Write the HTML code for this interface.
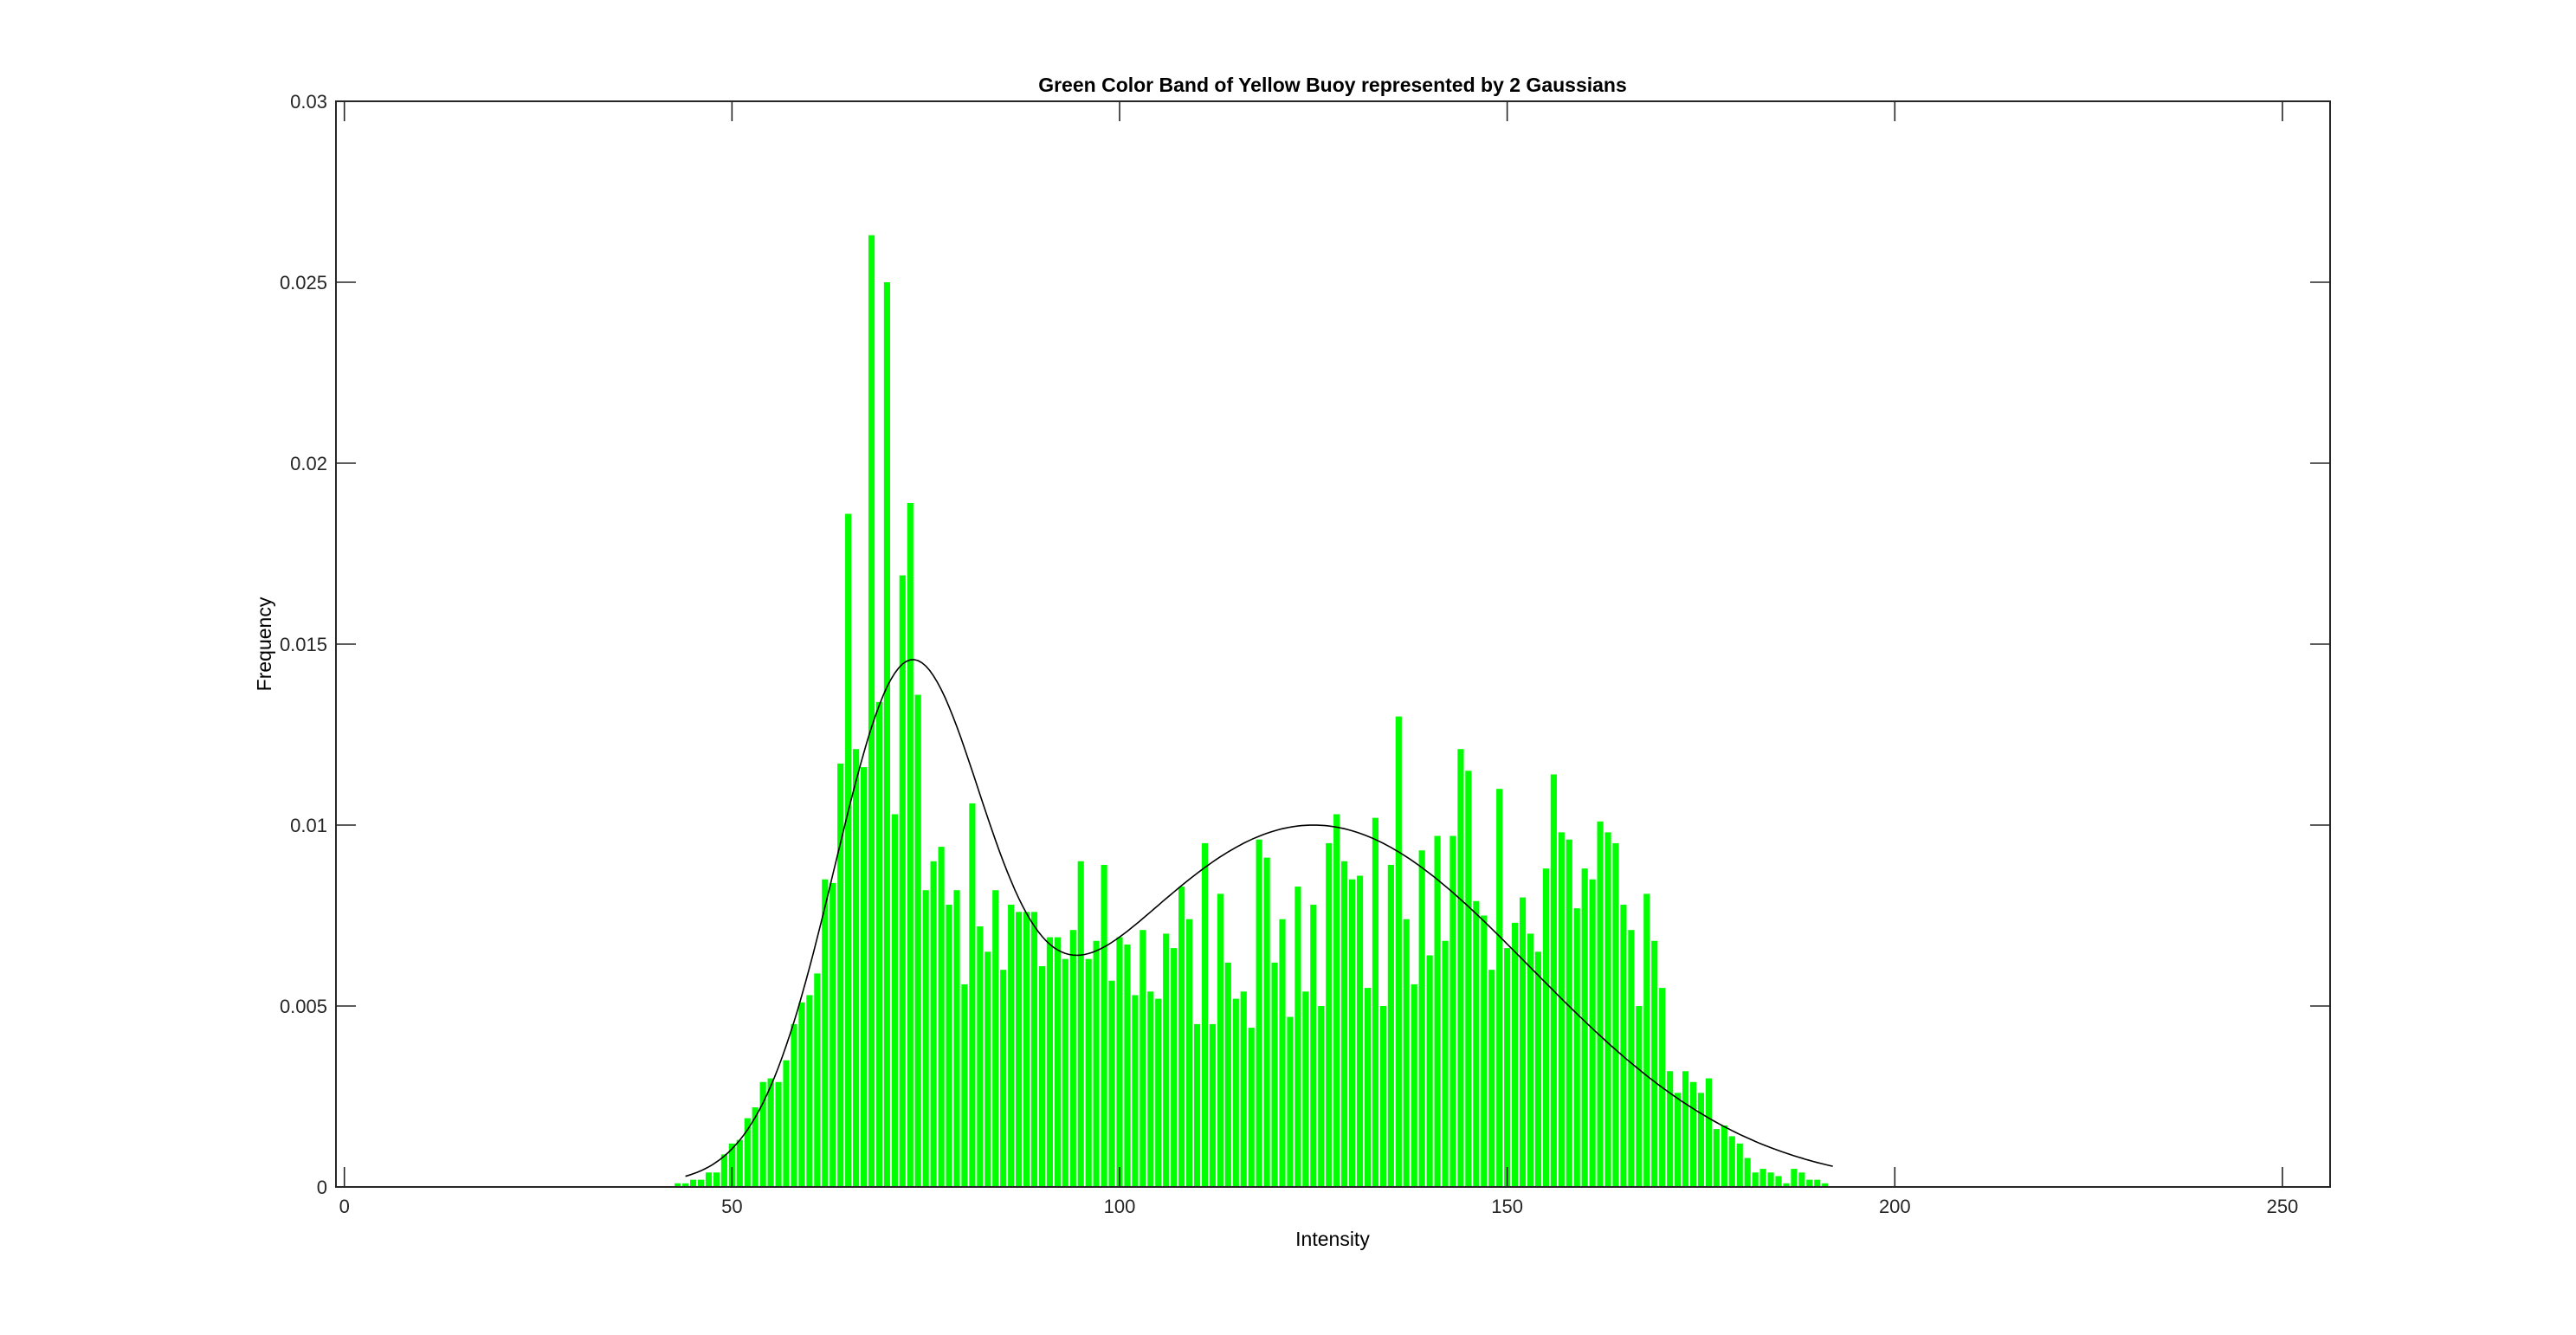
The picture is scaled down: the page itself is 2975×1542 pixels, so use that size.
<!DOCTYPE html>
<html><head><meta charset="utf-8"><style>
html,body{margin:0;padding:0;background:#fff;}
svg{display:block;font-family:"Liberation Sans",sans-serif;}
</style></head><body>
<svg id="chart" width="2975" height="1542" viewBox="0 0 2975 1542">
<rect x="0" y="0" width="2975" height="1542" fill="#fff"/>
<text x="1539" y="106" font-size="23" font-weight="bold" text-anchor="middle" fill="#000">Green Color Band of Yellow Buoy represented by 2 Gaussians</text>
<text x="0" y="0" transform="translate(313,744) rotate(-90)" font-size="23" text-anchor="middle" fill="#000">Frequency</text>
<text x="1539" y="1439" font-size="23" text-anchor="middle" fill="#000">Intensity</text>
<g id="bars"></g>
<g id="curve"></g>
<g id="axes"></g>
</svg>
<script>
const binStart = 43;
const freqs = [0.0001,0.0001,0.0002,0.0002,0.0004,0.0004,0.0009,0.0012,0.0013,0.0019,0.0022,0.0029,0.0030,0.0029,0.0035,0.0045,0.0051,0.0053,0.0059,0.0085,0.0084,0.0117,0.0186,0.0121,0.0116,0.0263,0.0134,0.0250,0.0103,0.0169,0.0189,0.0136,0.0082,0.0090,0.0094,0.0078,0.0082,0.0056,0.0106,0.0072,0.0065,0.0082,0.0060,0.0078,0.0076,0.0076,0.0076,0.0061,0.0069,0.0069,0.0063,0.0071,0.0090,0.0063,0.0068,0.0089,0.0057,0.0069,0.0067,0.0053,0.0071,0.0054,0.0052,0.0070,0.0066,0.0083,0.0074,0.0045,0.0095,0.0045,0.0081,0.0062,0.0052,0.0054,0.0044,0.0096,0.0091,0.0062,0.0074,0.0047,0.0083,0.0054,0.0078,0.0050,0.0095,0.0103,0.0090,0.0085,0.0086,0.0055,0.0102,0.0050,0.0089,0.0130,0.0074,0.0056,0.0093,0.0064,0.0097,0.0068,0.0097,0.0121,0.0115,0.0079,0.0075,0.0060,0.0110,0.0066,0.0073,0.0080,0.0070,0.0065,0.0088,0.0114,0.0098,0.0096,0.0077,0.0088,0.0085,0.0101,0.0098,0.0095,0.0078,0.0071,0.0050,0.0081,0.0068,0.0055,0.0032,0.0026,0.0032,0.0029,0.0026,0.0030,0.0016,0.0017,0.0014,0.0012,0.0008,0.0004,0.0005,0.0004,0.0003,0.0001,0.0005,0.0004,0.0002,0.0002,0.0001];
const gaussAmp = [0.0128, 0.0100];
const gaussMu = [72.5, 125];
const gaussSigma = [9.5, 28];
const curveRange = [44, 192];
const xTicks = [0, 50, 100, 150, 200, 250];
const yTicks = [0, 0.005, 0.01, 0.015, 0.02, 0.025, 0.03];
const yTickLabels = ["0","0.005","0.01","0.015","0.02","0.025","0.03"];

const L=388, R=2691, T=117, B=1371;
const x0px=397.7, xPerUnit=8.953;
const X = v => x0px + v*xPerUnit;
const Y = v => B - v/0.03*(B-T);
const NS='http://www.w3.org/2000/svg';
function mk(tag, attrs){const e=document.createElementNS(NS,tag);for(const k in attrs)e.setAttribute(k,attrs[k]);return e;}

const gb=document.getElementById('bars');
freqs.forEach((f,i)=>{
  const v=binStart+i, w=0.8*xPerUnit;
  const r=mk('rect',{x:X(v)-w/2,y:Y(f),width:w,height:B-Y(f),fill:'#00ff00'});
  
  
  gb.appendChild(r);
});

let d='';
for(let x=curveRange[0]; x<=curveRange[1]+1e-9; x+=0.5){
  let y=0;
  for(let k=0;k<gaussAmp.length;k++) y+=gaussAmp[k]*Math.exp(-Math.pow(x-gaussMu[k],2)/(2*gaussSigma[k]*gaussSigma[k]));
  d+=(d?'L':'M')+X(x).toFixed(1)+','+Y(y).toFixed(1);
}
const p=mk('path',{d:d,fill:'none',stroke:'#000','stroke-width':1.6});


document.getElementById('curve').appendChild(p);

const ga=document.getElementById('axes');
const box=mk('rect',{x:L,y:T,width:R-L,height:B-T,fill:'none',stroke:'#262626','stroke-width':2});


ga.appendChild(box);
xTicks.forEach(t=>{
  const x=X(t);
  const l1=mk('line',{x1:x,y1:B,x2:x,y2:B-23,stroke:'#262626','stroke-width':1.6});
  
  
  ga.appendChild(l1);
  const l2=mk('line',{x1:x,y1:T,x2:x,y2:T+23,stroke:'#262626','stroke-width':1.6});
  
  
  ga.appendChild(l2);
  const tx=mk('text',{x:x,y:B+30,'font-size':22,'text-anchor':'middle',fill:'#262626'});
  tx.textContent=String(t);
  
  
  ga.appendChild(tx);
});
yTicks.forEach((t,i)=>{
  const y=Y(t);
  const l1=mk('line',{x1:L,y1:y,x2:L+23,y2:y,stroke:'#262626','stroke-width':1.6});
  
  
  ga.appendChild(l1);
  const l2=mk('line',{x1:R,y1:y,x2:R-23,y2:y,stroke:'#262626','stroke-width':1.6});
  
  
  ga.appendChild(l2);
  const tx=mk('text',{x:L-10,y:y+8,'font-size':22,'text-anchor':'end',fill:'#262626'});
  tx.textContent=yTickLabels[i];
  
  
  ga.appendChild(tx);
});
</script>
</body></html>
